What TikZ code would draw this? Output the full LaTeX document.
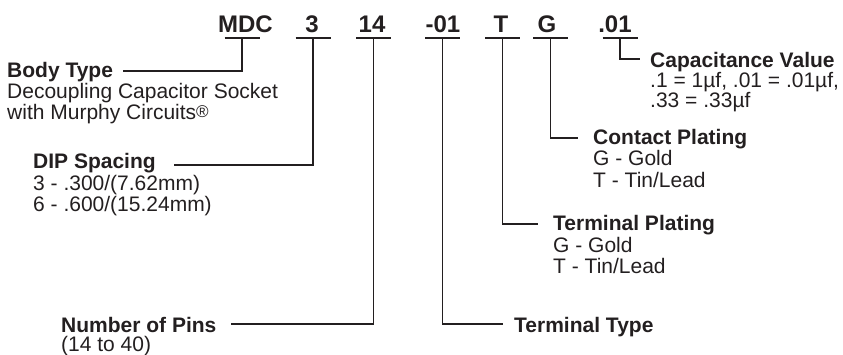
\documentclass[tikz,border=0pt]{standalone}
\usepackage{fontspec}
\setmainfont{Liberation Sans}
\definecolor{ink}{HTML}{231F20}
\begin{document}
\begin{tikzpicture}[x=1pt,y=-1pt,
  code/.style={anchor=base,inner sep=0pt,text=ink,font=\fontsize{24}{24}\selectfont\bfseries},
  head/.style={anchor=base west,inner sep=0pt,text=ink,text height=15pt,text depth=4pt,font=\fontsize{21}{21}\selectfont\bfseries},
  body/.style={anchor=base west,inner sep=0pt,text=ink,text height=15pt,text depth=4pt,font=\fontsize{21}{21}\selectfont},
  wire/.style={draw=ink,line width=1.4pt},
  uline/.style={draw=ink,line width=1.4pt}]
\useasboundingbox (0,0) rectangle (843,354);
% codes
\node[code] (mdc) at (245.5,32) {MDC};
\node[code] (sp) at (312,32) {3};
\node[code] (pins) at (372,32) {14};
\node[code] (tt) at (443,32) {-01};
\node[code] (tp) at (501,32) {T};
\node[code] (cp) at (547,32) {G};
\node[code] (cv) at (615,32) {.01};
% taps under codes
\coordinate (tmdc) at (242,38);
\coordinate (tsp) at (313,38);
\coordinate (tpins) at (373.5,38);
\coordinate (ttt) at (442.5,38);
\coordinate (ttp) at (502.5,38);
\coordinate (tcp) at (550.5,38);
\coordinate (tcv) at (620,38);
\foreach \t in {tmdc,tsp,tpins,ttt,ttp,tcp,tcv}
  \draw[uline] ([xshift=-17.5pt]\t) -- ([xshift=17.5pt]\t);
% labels
\node[head] (bodyh) at (7,77) {Body Type};
\node[body] (body1) at (7,98) {Decoupling Capacitor Socket};
\node[body] (body2) at (7,119) {with Murphy Circuits\raisebox{2pt}{\fontsize{17}{17}\selectfont ®}};
\node[head] (diph) at (33,168) {DIP Spacing};
\node[body] (dip1) at (33,190) {3 - .300/(7.62mm)};
\node[body] (dip2) at (33,211) {6 - .600/(15.24mm)};
\node[head] (pinh) at (61,332) {Number of Pins};
\node[body] (pin1) at (61,351) {(14 to 40)};
\node[head] (tth) at (514,332) {Terminal Type};
\node[head] (tph) at (553,230) {Terminal Plating};
\node[body] (tp1) at (553,252) {G - Gold};
\node[body] (tp2) at (553,273) {T - Tin/Lead};
\node[head] (cph) at (593,144) {Contact Plating};
\node[body] (cp1) at (593,165) {G - Gold};
\node[body] (cp2) at (593,187) {T - Tin/Lead};
\node[head] (cvh) at (650,67) {Capacitance Value};
\node[body] (cv1) at (650,87) {.1 = 1µf, .01 = .01µf,};
\node[body] (cv2) at (650,107) {.33 = .33µf};
% line ends
\coordinate (ebody) at (123,71);
\coordinate (edip) at (174,165);
\coordinate (epin) at (231,324);
\coordinate (ett) at (503,324);
\coordinate (etp) at (538,224);
\coordinate (ecp) at (578,138);
\coordinate (ecv) at (640,59);
% connectors
\draw[wire] (tmdc) |- (ebody);
\draw[wire] (tsp) |- (edip);
\draw[wire] (tpins) |- (epin);
\draw[wire] (ttt) |- (ett);
\draw[wire] (ttp) |- (etp);
\draw[wire] (tcp) |- (ecp);
\draw[wire] (tcv) |- (ecv);
\end{tikzpicture}
\end{document}
